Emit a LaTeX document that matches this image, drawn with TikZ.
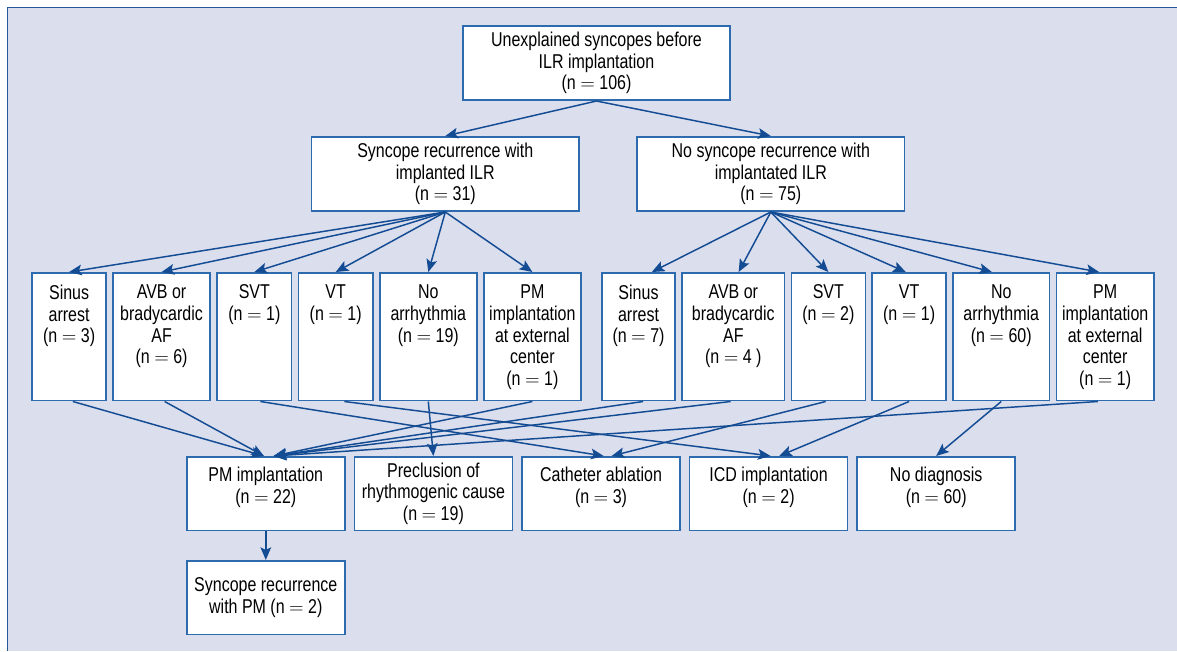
\documentclass[tikz,border=0pt]{standalone}
\usepackage{fontspec}
\setmainfont[FakeStretch=0.8]{Liberation Sans}
\usepackage{tikz}
\usetikzlibrary{arrows.meta}
\usetikzlibrary{positioning}
\definecolor{panelbg}{RGB}{218,222,237}
\definecolor{panelline}{RGB}{38,88,150}
\definecolor{cellline}{RGB}{46,106,174}
\definecolor{arrowline}{RGB}{20,76,148}

\begin{document}
\begin{tikzpicture}[x=0.75pt,y=-0.75pt,>={Stealth[length=9.5pt,width=8pt,inset=2pt]},
	cell/.style={draw=cellline,fill=white,line width=1.2pt,align=center,inner sep=0pt,font={\fontsize{15pt}{16.3pt}\selectfont}},
	toprow/.style={cell,minimum width=200.6pt,minimum height=55.8pt},
	midrow/.style={cell,minimum width=#1,minimum height=95.9pt},
	botrow/.style={cell,minimum width=118.5pt,minimum height=55.4pt},
	celltop/.style={anchor=north,align=center,inner sep=0pt,font={\fontsize{15pt}{16.3pt}\selectfont}},
	link/.style={draw=arrowline,line width=1.1pt,->}]
	\useasboundingbox (0,0) rectangle (1177,651);
	\fill[panelbg] (7.5,7.5) rectangle (1177,651);
	\draw[panelline,line width=1.2pt] (7.5,651) -- (7.5,7.5) -- (1177,7.5);

	\node[toprow] (unexpl) at (596.5,63) {Unexplained syncopes before\\ILR implantation\\(n $=$ 106)};
	\node[toprow] (recur) at (445.3,174) {Syncope recurrence with\\implanted ILR\\(n $=$ 31)};
	\node[toprow] (norecur) at (770.8,174) {No syncope recurrence with\\implantated ILR\\(n $=$ 75)};

	\node[midrow=55.3pt,label={[celltop,yshift=-9.5pt]north:Sinus\\arrest\\(n $=$ 3)}] (sa1) at (69.1,336.75) {};
	\node[midrow=73pt,right=4pt of sa1,label={[celltop,yshift=-9.5pt]north:AVB or\\bradycardic\\AF\\(n $=$ 6)}] (avb1) {};
	\node[midrow=55.8pt,right=4pt of avb1,label={[celltop,yshift=-9.5pt]north:SVT\\(n $=$ 1)}] (svt1) {};
	\node[midrow=55.8pt,right=4pt of svt1,label={[celltop,yshift=-9.5pt]north:VT\\(n $=$ 1)}] (vt1) {};
	\node[midrow=72.7pt,right=4pt of vt1,label={[celltop,yshift=-9.5pt]north:No\\arrhythmia\\(n $=$ 19)}] (noarr1) {};
	\node[midrow=73pt,right=4pt of noarr1,label={[celltop,yshift=-9.5pt]north:PM\\implantation\\at external\\center\\(n $=$ 1)}] (pm1) {};

	\node[midrow=55pt,label={[celltop,yshift=-9.5pt]north:Sinus\\arrest\\(n $=$ 7)}] (sa2) at (638.5,336.75) {};
	\node[midrow=76.8pt,right=4pt of sa2,label={[celltop,yshift=-9.5pt]north:AVB or\\bradycardic\\AF\\(n $=$ 4 )}] (avb2) {};
	\node[midrow=55.4pt,right=4pt of avb2,label={[celltop,yshift=-9.5pt]north:SVT\\(n $=$ 2)}] (svt2) {};
	\node[midrow=55.3pt,right=4pt of svt2,label={[celltop,yshift=-9.5pt]north:VT\\(n $=$ 1)}] (vt2) {};
	\node[midrow=72.5pt,right=4pt of vt2,label={[celltop,yshift=-9.5pt]north:No\\arrhythmia\\(n $=$ 60)}] (noarr2) {};
	\node[midrow=73pt,right=4pt of noarr2,label={[celltop,yshift=-9.5pt]north:PM\\implantation\\at external\\center\\(n $=$ 1)}] (pm2) {};

	\node[botrow,label={[celltop,yshift=-8pt]north:PM implantation\\(n $=$ 22)}] (pmimpl) at (265.8,493.7) {};
	\node[botrow,right=6pt of pmimpl] (precl) {Preclusion of\\rhythmogenic cause\\(n $=$ 19)};
	\node[botrow,right=6pt of precl,label={[celltop,yshift=-8pt]north:Catheter ablation\\(n $=$ 3)}] (cath) {};
	\node[botrow,right=6pt of cath,label={[celltop,yshift=-8pt]north:ICD implantation\\(n $=$ 2)}] (icd) {};
	\node[botrow,right=6pt of icd,label={[celltop,yshift=-8pt]north:No diagnosis\\(n $=$ 60)}] (nodiag) {};
	\node[botrow,below=21.4pt of pmimpl] (pmrec) {Syncope recurrence\\with PM (n $=$ 2)};

	\draw[link] (unexpl.south) -- (recur.north);
	\draw[link] (unexpl.south) -- (norecur.north);
	\foreach \b in {sa1,avb1,svt1,vt1,noarr1,pm1}
		\draw[link] (recur.south) -- (\b.north);
	\foreach \b/\s in {sa2/10pt,avb2/4pt,svt2/0pt,vt2/-2.5pt,noarr2/-7pt,pm2/-4.5pt}
		\draw[link] (norecur.south) -- ([xshift=\s]\b.north);

	\foreach \b/\s/\t in {sa1/2.8pt/-1.4pt,avb1/2.3pt/-1.4pt,pm1/0pt/5.9pt,sa2/3.4pt/5.9pt,avb2/-2pt/5.9pt,pm2/-5.5pt/5.9pt}
		\draw[link] ([xshift=\s]\b.south) -- ([xshift=\t]pmimpl.north);
	\draw[link] ([xshift=4.5pt]svt1.south) -- ([xshift=2pt]cath.north);
	\draw[link] ([xshift=-2pt]svt2.south) -- ([xshift=8pt]cath.north);
	\draw[link] ([xshift=6.5pt]vt1.south) -- ([xshift=1.5pt]icd.north);
	\draw[link] (vt2.south) -- ([xshift=8pt]icd.north);
	\draw[link] (noarr1.south) -- (precl.north);
	\draw[link] (noarr2.south) -- (nodiag.north);
	\draw[link] (pmimpl.south) -- (pmrec.north);
\end{tikzpicture}
\end{document}
